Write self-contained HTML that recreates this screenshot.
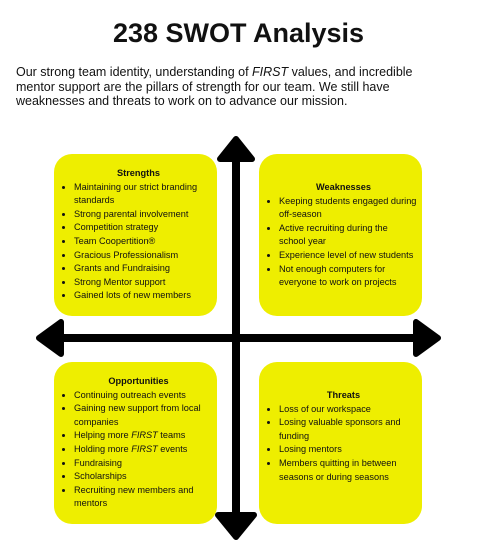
<!DOCTYPE html>
<html><head><meta charset="utf-8"><style>
body{margin:0;width:477px;height:552px;background:#fff;font-family:"Liberation Sans",sans-serif;position:relative;overflow:hidden;color:#111}
h1{position:absolute;left:0;width:477px;top:18px;margin:0;text-align:center;font-size:27px;font-weight:bold}
.intro{position:absolute;left:16px;top:65px;width:408px;font-size:12.5px;line-height:14.5px;margin:0}
.box{position:absolute;width:163px;height:162px;background:#eeee00;border-radius:18px;font-size:9.2px;line-height:13.6px;box-sizing:border-box;padding:0 0 0 6px;display:flex;flex-direction:column}
.box h3{margin:0;text-align:center;font-size:9.2px;font-weight:bold}
.box ul{margin:0;padding-left:14px}
svg{position:absolute;left:0;top:0}
</style></head><body>
<h1>238 SWOT Analysis</h1>
<p class="intro">Our strong team identity, understanding of <i>FIRST</i> values, and incredible mentor support are the pillars of strength for our team. We still have weaknesses and threats to work on to advance our mission.</p>
<svg width="477" height="552">
<line x1="236" y1="150" x2="236" y2="525" stroke="#000" stroke-width="8"/>
<line x1="48" y1="338" x2="430" y2="338" stroke="#000" stroke-width="8"/>
<polygon points="236,139 252,159 220,159" fill="#000" stroke="#000" stroke-width="6" stroke-linejoin="round"/>
<polygon points="236,537 254,515 218,515" fill="#000" stroke="#000" stroke-width="6" stroke-linejoin="round"/>
<polygon points="39,338 61,322 61,354" fill="#000" stroke="#000" stroke-width="6" stroke-linejoin="round"/>
<polygon points="438,338 416,322 416,354" fill="#000" stroke="#000" stroke-width="6" stroke-linejoin="round"/>
</svg>
<div class="box" style="left:54px;top:154px;padding-top:13px"><h3>Strengths</h3><ul>
<li>Maintaining our strict branding standards</li><li>Strong parental involvement</li><li>Competition strategy</li><li>Team Coopertition®</li><li>Gracious Professionalism</li><li>Grants and Fundraising</li><li>Strong Mentor support</li><li>Gained lots of new members</li></ul></div>
<div class="box" style="left:259px;top:154px;padding-top:27px"><h3>Weaknesses</h3><ul>
<li>Keeping students engaged during off-season</li><li>Active recruiting during the<br>school year</li><li>Experience level of new students</li><li>Not enough computers for everyone to work on projects</li></ul></div>
<div class="box" style="left:54px;top:362px;padding-top:13px"><h3>Opportunities</h3><ul>
<li>Continuing outreach events</li><li>Gaining new support from local companies</li><li>Helping more <i>FIRST</i> teams</li><li>Holding more <i>FIRST</i> events</li><li>Fundraising</li><li>Scholarships</li><li>Recruiting new members and mentors</li></ul></div>
<div class="box" style="left:259px;top:362px;padding-top:27px"><h3>Threats</h3><ul>
<li>Loss of our workspace</li><li>Losing valuable sponsors and funding</li><li>Losing mentors</li><li>Members quitting in between seasons or during seasons</li></ul></div>
</body></html>
